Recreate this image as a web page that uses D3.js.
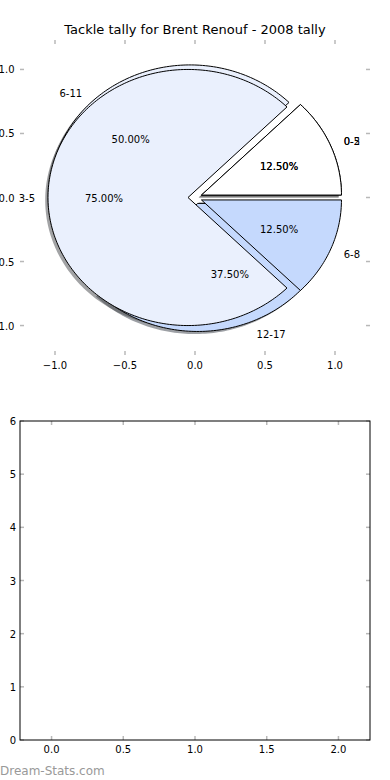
<!DOCTYPE html>
<html>
<head>
<meta charset="utf-8">
<script src="https://cdn.jsdelivr.net/npm/d3@7"></script>
<style>
  body { margin: 0; background: #fff; }
  text { font-family: "DejaVu Sans", sans-serif; }
</style>
</head>
<body>
<svg id="chart" width="390" height="780"></svg>
<script>
// data
const titleText = "Tackle tally for Brent Renouf - 2008 tally";
const labelsA = ["0-2", "3-5", "6-8"];
const valuesA = [1, 6, 1];
const labelsB = ["0-5", "6-11", "12-17"];
const valuesB = [1, 4, 3];
const sliceColors = ["#ffffff", "#eaf0fd", "#c5d9fd"];
const pieTicks = [-1, -0.5, 0, 0.5, 1];
const barXTicks = [0, 0.5, 1, 1.5, 2];
const barYTicks = [0, 1, 2, 3, 4, 5, 6];

const explode = 0.05, labelDist = 1.1, pctDist = 0.6;

const svg = d3.select("#chart");

// top panel (pie)
const x = d3.scaleLinear().domain([-1.25, 1.25]).range([20, 370]);
const y = d3.scaleLinear().domain([-1.23, 1.23]).range([355, 40]);

svg.append("text")
  .attr("x", 195).attr("y", 34)
  .attr("text-anchor", "middle")
  .attr("font-size", 13)
  .text(titleText);

const fmt = d3.format(".1f");
const tickCol = "#b8b8b8";

// little inward ticks, no frame
const tk = svg.append("g").attr("stroke", tickCol).attr("stroke-width", 1.5);
pieTicks.forEach(v => {
  tk.append("line").attr("x1", x(v)).attr("x2", x(v)).attr("y1", 40).attr("y2", 44);
  tk.append("line").attr("x1", x(v)).attr("x2", x(v)).attr("y1", 355).attr("y2", 351);
  tk.append("line").attr("y1", y(v)).attr("y2", y(v)).attr("x1", 20).attr("x2", 24);
  tk.append("line").attr("y1", y(v)).attr("y2", y(v)).attr("x1", 370).attr("x2", 366);
});
svg.append("g").selectAll("text").data(pieTicks).join("text")
  .attr("x", d => x(d)).attr("y", 369)
  .attr("text-anchor", "middle").attr("font-size", 10)
  .text(d => fmt(d));
svg.append("g").selectAll("text").data(pieTicks).join("text")
  .attr("x", 14.5).attr("y", d => y(d) + 4)
  .attr("text-anchor", "end").attr("font-size", 10)
  .text(d => fmt(d));

const pie = d3.pie().sort(null).startAngle(0).endAngle(2 * Math.PI);
const line = d3.line().x(d => x(d[0])).y(d => y(d[1]));

function wedgePts(a, dx, dy) {
  const tm = (a.startAngle + a.endAngle) / 2;
  const cx = explode * Math.cos(tm) + dx, cy = explode * Math.sin(tm) + dy;
  const pts = [[cx, cy]];
  const n = Math.max(4, Math.ceil((a.endAngle - a.startAngle) / 0.02));
  for (let i = 0; i <= n; i++) {
    const t = a.startAngle + (a.endAngle - a.startAngle) * i / n;
    pts.push([cx + Math.cos(t), cy + Math.sin(t)]);
  }
  pts.push([cx, cy]);
  return pts;
}

const arcsA = pie(valuesA), arcsB = pie(valuesB);

// shadows sit under every wedge
const shadowG = svg.append("g");
[arcsB, arcsA].forEach(arcs => {
  shadowG.selectAll(null).data(arcs).join("path")
    .attr("d", d => line(wedgePts(d, -0.02, -0.02)) + "Z")
    .attr("fill", (d, i) => {
      const c = d3.rgb(sliceColors[i]);
      return `rgba(${c.r * 0.3},${c.g * 0.3},${c.b * 0.3},0.5)`;
    })
    .attr("stroke", "none");
});

// pie B underneath, pie A on top
[arcsB, arcsA].forEach(arcs => {
  svg.append("g").selectAll("path").data(arcs).join("path")
    .attr("d", d => line(wedgePts(d, 0, 0)) + "Z")
    .attr("fill", (d, i) => sliceColors[i])
    .attr("stroke", "#000")
    .attr("stroke-width", 1)
    .attr("stroke-linejoin", "miter");
});

// labels and percentages
[[arcsB, labelsB, valuesB], [arcsA, labelsA, valuesA]].forEach(([arcs, labs, vals]) => {
  const total = d3.sum(vals);
  const g = svg.append("g").attr("font-size", 10);
  arcs.forEach((a, i) => {
    const tm = (a.startAngle + a.endAngle) / 2;
    const cx = explode * Math.cos(tm), cy = explode * Math.sin(tm);
    const lx = cx + labelDist * Math.cos(tm), ly = cy + labelDist * Math.sin(tm);
    g.append("text")
      .attr("x", x(lx) + (lx > 0 ? 0 : 1)).attr("y", y(ly) + 4)
      .attr("text-anchor", lx > 0 ? "start" : "end")
      .text(labs[i]);
    const px = cx + pctDist * Math.cos(tm), py = cy + pctDist * Math.sin(tm);
    g.append("text")
      .attr("x", x(px)).attr("y", y(py) + 4)
      .attr("text-anchor", "middle")
      .text(d3.format(".2f")(vals[i] / total * 100) + "%");
  });
});

// bottom panel (empty axes)
const x2 = d3.scaleLinear().domain([-0.22, 2.22]).range([20, 370]);
const y2 = d3.scaleLinear().domain([0, 6]).range([740, 421]);

const tk2 = svg.append("g").attr("stroke", tickCol).attr("stroke-width", 1.5);
barXTicks.forEach(v => {
  tk2.append("line").attr("x1", x2(v)).attr("x2", x2(v)).attr("y1", 421).attr("y2", 425);
  tk2.append("line").attr("x1", x2(v)).attr("x2", x2(v)).attr("y1", 740).attr("y2", 736);
});
barYTicks.forEach(v => {
  tk2.append("line").attr("y1", y2(v)).attr("y2", y2(v)).attr("x1", 20).attr("x2", 24);
  tk2.append("line").attr("y1", y2(v)).attr("y2", y2(v)).attr("x1", 370).attr("x2", 366);
});
svg.append("rect")
  .attr("x", 20).attr("y", 421).attr("width", 350).attr("height", 319)
  .attr("fill", "none").attr("stroke", "#000").attr("stroke-width", 1);

svg.append("g").selectAll("text").data(barXTicks).join("text")
  .attr("x", d => x2(d)).attr("y", 753)
  .attr("text-anchor", "middle").attr("font-size", 10)
  .text(d => fmt(d));
svg.append("g").selectAll("text").data(barYTicks).join("text")
  .attr("x", 16).attr("y", d => y2(d) + 4)
  .attr("text-anchor", "end").attr("font-size", 10)
  .text(d => d);

svg.append("text")
  .attr("x", 0).attr("y", 775)
  .attr("font-size", 12)
  .attr("fill", "#999")
  .text("Dream-Stats.com");
</script>
</body>
</html>
